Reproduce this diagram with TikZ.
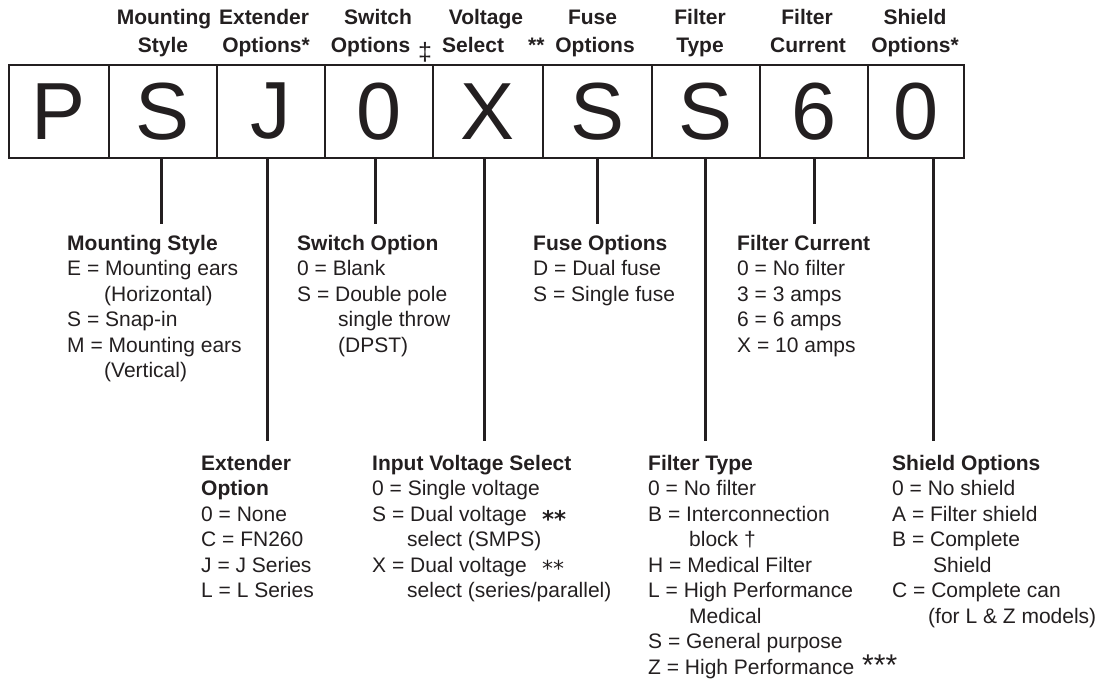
\documentclass[tikz,border=0pt]{standalone}
\usepackage{fontspec}
\setmainfont{Liberation Sans}
\newfontfamily\djv{DejaVu Sans}
\definecolor{ink}{HTML}{231F20}
\tikzset{
  box/.style={draw=ink, line width=2pt, minimum width=#1, minimum height=93pt, inner sep=0pt,
    font=\fontsize{81}{81}\selectfont, text=ink},
  lead/.style={draw=ink, line width=3pt},
  hdr/.style={anchor=base, inner sep=0pt, font=\fontsize{21}{25}\selectfont\bfseries, text=ink},
  col/.style={anchor=base west, inner sep=0pt, font=\fontsize{21}{25.5}\selectfont, text=ink},
  mark8/.style={anchor=base west, inner sep=0pt, text=ink},
}
\newcommand{\colbox}[1]{\begin{tabular}[t]{@{}l@{}}#1\end{tabular}}
\begin{document}
\begin{tikzpicture}[x=1pt,y=-1pt]
\useasboundingbox (0,0) rectangle (1099,681);
% code boxes
\node[box=100pt] (b1) at (59,111.5) {P};
\node[box=108pt] (b2) at (163,111.5) {S};
\node[box=108pt] (b3) at (271,111.5) {J};
\node[box=108pt] (b4) at (379,111.5) {0};
\node[box=110pt] (b5) at (488,111.5) {X};
\node[box=109pt] (b6) at (597.5,111.5) {S};
\node[box=108pt] (b7) at (706,111.5) {S};
\node[box=108pt] (b8) at (814,111.5) {6};
\node[box=96pt]  (b9) at (916,111.5) {0};
% header labels
\node[hdr] (h2a) at (164,24.5) {Mounting};
\node[hdr] (h2b) at (163,52) {Style};
\node[hdr] (h3a) at (264,24.5) {Extender};
\node[hdr] (h3b) at (266,52) {Options*};
\node[hdr] (h4a) at (378,24.5) {Switch};
\node[hdr] (h4b) at (370.5,52) {Options};
\node[mark8, anchor=base, font=\fontsize{25}{25}\selectfont] (h4c) at (425,60) {‡};
\node[hdr] (h5a) at (486,24.5) {Voltage};
\node[hdr, anchor=base west] (h5b) at (442,52) {Select};
\node[mark8, font=\fontsize{21}{21}\selectfont\bfseries] (h5c) at (528,52) {**};
\node[hdr] (h6a) at (592.5,24.5) {Fuse};
\node[hdr] (h6b) at (595,52) {Options};
\node[hdr] (h7a) at (700,24.5) {Filter};
\node[hdr] (h7b) at (700,52) {Type};
\node[hdr] (h8a) at (807,24.5) {Filter};
\node[hdr] (h8b) at (808,52) {Current};
\node[hdr] (h9a) at (915,24.5) {Shield};
\node[hdr] (h9b) at (915,52) {Options*};
% option lists
\node[col] (c2) at (67,250) {\colbox{\textbf{Mounting Style}\\
  E = Mounting ears\\ \hspace*{37pt}(Horizontal)\\ S = Snap-in\\
  M = Mounting ears\\ \hspace*{37pt}(Vertical)}};
\node[col] (c4) at (297,250) {\colbox{\textbf{Switch Option}\\
  0 = Blank\\ S = Double pole\\ \hspace*{41pt}single throw\\ \hspace*{41pt}(DPST)}};
\node[col] (c6) at (533,250) {\colbox{\textbf{Fuse Options}\\
  D = Dual fuse\\ S = Single fuse}};
\node[col] (c8) at (737,250) {\colbox{\textbf{Filter Current}\\
  0 = No filter\\ 3 = 3 amps\\ 6 = 6 amps\\ X = 10 amps}};
\node[col] (c3) at (201,470) {\colbox{\textbf{Extender}\\ \textbf{Option}\\
  0 = None\\ C = FN260\\ J = J Series\\ L = L Series}};
\node[col] (c5) at (372,470) {\colbox{\textbf{Input Voltage Select}\\
  0 = Single voltage\\ S = Dual voltage\\ \hspace*{35pt}select (SMPS)\\
  X = Dual voltage\\ \hspace*{35pt}select (series/parallel)}};
\node[mark8, font=\fontsize{23}{23}\djv\bfseries] (s5a) at (542,527) {**};
\node[mark8, font=\fontsize{22}{22}\djv] (s5b) at (542,576) {**};
\node[col] (c7) at (648,470) {\colbox{\textbf{Filter Type}\\
  0 = No filter\\ B = Interconnection\\ \hspace*{41pt}block †\\
  H = Medical Filter\\ L = High Performance\\ \hspace*{41pt}Medical\\
  S = General purpose\\ Z = High Performance}};
\node[mark8, font=\fontsize{30}{30}\selectfont] (s7) at (862,675) {***};
\node[col] (c9) at (892,470) {\colbox{\textbf{Shield Options}\\
  0 = No shield\\ A = Filter shield\\ B = Complete\\ \hspace*{41pt}Shield\\
  C = Complete can\\ \hspace*{36pt}(for L \& Z models)}};
% leader ends
\coordinate (e2) at (161,224);
\coordinate (e3) at (267,441);
\coordinate (e4) at (375.5,224);
\coordinate (e5) at (484,441);
\coordinate (e6) at (597,224);
\coordinate (e7) at (705,441);
\coordinate (e8) at (814,224);
\coordinate (e9) at (933,441);
\draw[lead] (b2.south -| e2) -- (e2);
\draw[lead] (b3.south -| e3) -- (e3);
\draw[lead] (b4.south -| e4) -- (e4);
\draw[lead] (b5.south -| e5) -- (e5);
\draw[lead] (b6.south -| e6) -- (e6);
\draw[lead] (b7.south -| e7) -- (e7);
\draw[lead] (b8.south -| e8) -- (e8);
\draw[lead] (b9.south -| e9) -- (e9);
\end{tikzpicture}
\end{document}
